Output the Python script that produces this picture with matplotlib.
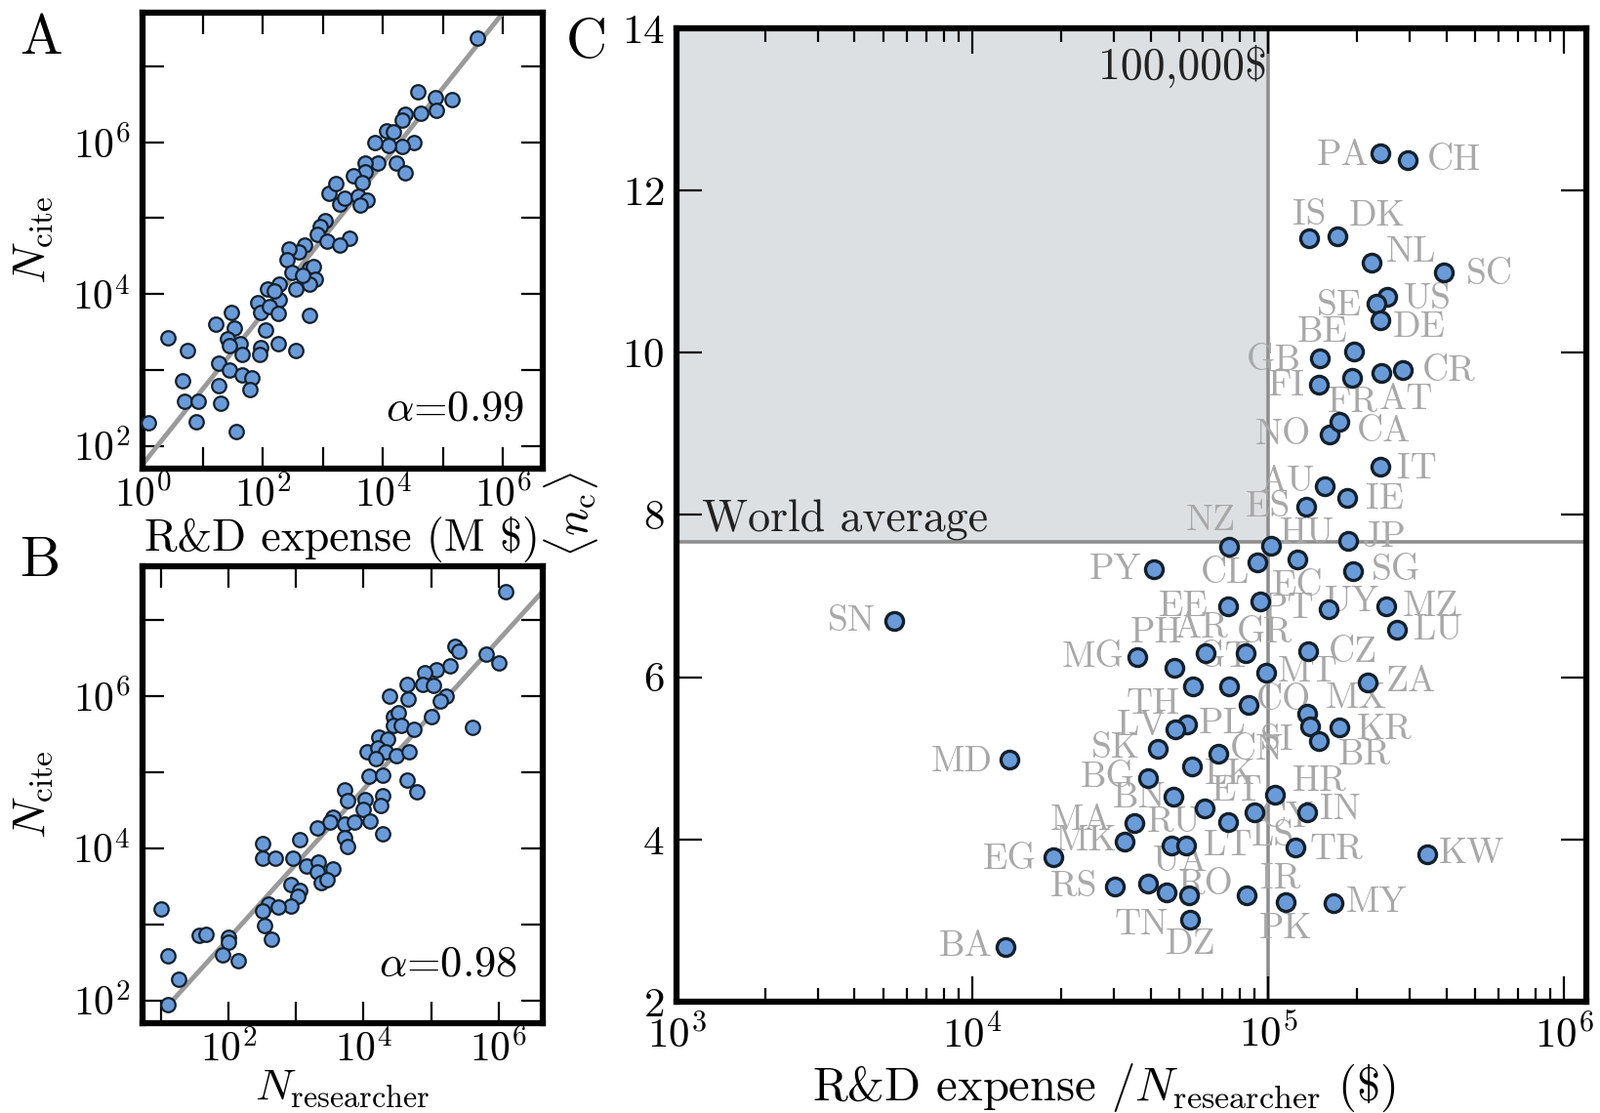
import numpy as np
import matplotlib
matplotlib.use("Agg")
import matplotlib.pyplot as plt
from matplotlib.ticker import FixedLocator, NullLocator, LogLocator

plt.rcParams['font.family'] = 'serif'
plt.rcParams['font.serif'] = ['cmr10', 'DejaVu Serif']
plt.rcParams['mathtext.fontset'] = 'cm'
plt.rcParams['axes.formatter.use_mathtext'] = True

# panel A: log10 of R&D expense (M $) and log10 of N_cite
a_expense_log = [5.57, 4.58, 4.87, 5.15, 4.63, 4.90, 4.38, 4.32, 4.06, 4.17, 4.52, 4.32, 4.09, 3.87,
                 4.22, 4.38, 3.91, 3.71, 3.71, 3.51, 3.65, 3.10, 3.22, 3.28, 3.37, 3.59, 3.74, 3.62,
                 3.04, 2.95, 2.90, 3.07, 3.45, 3.28, 2.69, 2.60, 2.43, 2.40, 2.78, 2.84, 2.49, 2.87,
                 2.78, 2.66, 2.55, 2.28, 2.08, 2.28, 2.20, 1.91, 1.97, 2.11, 2.26, 2.78, 1.47, 1.21,
                 1.53, 1.41, 1.62, 1.44, 2.05, 1.97, 2.26, 2.55, 1.65, 1.94, 1.27, 1.44, 1.65, 1.82,
                 1.78, 1.27, 1.30, 1.56, 0.42, 0.74, 0.67, 0.70, 0.92, 0.89, 0.10]
a_cite_log = [7.37, 6.66, 6.58, 6.56, 6.38, 6.42, 6.37, 6.29, 6.15, 6.13, 5.99, 5.94, 5.96, 6.00,
              5.73, 5.59, 5.72, 5.72, 5.61, 5.56, 5.47, 5.33, 5.46, 5.19, 5.26, 5.29, 5.24, 5.17,
              4.96, 4.89, 4.78, 4.69, 4.73, 4.64, 4.65, 4.55, 4.59, 4.45, 4.34, 4.36, 4.29, 4.20,
              4.13, 4.25, 4.06, 4.13, 4.06, 3.92, 4.04, 3.88, 3.76, 3.83, 3.75, 3.72, 3.76, 3.60,
              3.55, 3.41, 3.34, 3.32, 3.53, 3.30, 3.34, 3.25, 3.20, 3.20, 3.09, 3.00, 2.93, 2.90,
              2.74, 2.79, 2.56, 2.19, 3.42, 3.25, 2.86, 2.59, 2.59, 2.32, 2.30]

# panel B: log10 of N_researcher and log10 of N_cite
b_researcher_log = [6.10, 5.36, 5.41, 5.81, 6.00, 5.28, 5.08, 4.90, 4.64, 4.87, 5.03, 4.38, 4.66,
                    5.23, 5.13, 5.00, 4.44, 4.51, 4.44, 4.56, 4.74, 5.62, 4.23, 4.36, 4.05, 4.21,
                    4.33, 4.49, 4.67, 4.18, 4.08, 4.28, 4.64, 4.79, 3.72, 3.77, 4.03, 4.00, 4.28,
                    4.26, 4.10, 3.54, 3.51, 3.72, 3.87, 4.28, 3.72, 3.77, 3.31, 3.05, 2.51, 2.51,
                    2.69, 2.95, 3.15, 3.33, 3.31, 3.54, 3.38, 3.46, 2.92, 3.05, 3.03, 2.92, 2.59,
                    2.74, 2.51, 2.54, 2.64, 2.00, 2.00, 1.91, 2.15, 1.56, 1.67, 1.00, 1.10, 1.26,
                    1.10]
b_cite_log = [7.37, 6.65, 6.58, 6.55, 6.43, 6.39, 6.34, 6.30, 6.15, 6.15, 6.13, 6.00, 5.96, 6.00,
              5.93, 5.73, 5.73, 5.78, 5.61, 5.61, 5.56, 5.58, 5.46, 5.43, 5.26, 5.31, 5.26, 5.21,
              5.26, 5.18, 4.94, 4.96, 4.89, 4.74, 4.77, 4.62, 4.64, 4.51, 4.69, 4.56, 4.36, 4.41,
              4.34, 4.31, 4.34, 4.19, 4.14, 4.02, 4.27, 4.11, 4.06, 3.87, 3.87, 3.87, 3.77, 3.82,
              3.69, 3.73, 3.54, 3.59, 3.52, 3.44, 3.37, 3.24, 3.27, 3.23, 3.17, 2.98, 2.80, 2.83,
              2.77, 2.60, 2.52, 2.85, 2.87, 3.20, 2.58, 2.28, 1.95]

# fitted power laws: log10(N_cite) = slope * log10(x) + intercept
fit_a = (0.99, 1.76)
fit_b = (0.98, 0.85)

# panel C
countries = ['PA', 'CH', 'IS', 'DK', 'NL', 'SC', 'US', 'SE', 'DE', 'BE', 'GB', 'FI', 'FR', 'AT',
             'CR', 'NO', 'CA', 'IT', 'AU', 'IE', 'ES',
             'NZ', 'HU', 'JP', 'PY', 'CL', 'EC', 'SG', 'EE', 'PT', 'UY', 'MZ', 'LU', 'SN', 'MG',
             'AR', 'GR', 'CZ', 'PH', 'MT', 'ZA', 'TH', 'GT', 'CO', 'MX',
             'SI', 'KR', 'BR', 'PL', 'LV', 'SK', 'CN', 'MD', 'LK', 'BG', 'BN', 'HR', 'ET', 'LS',
             'CY', 'IN', 'MA', 'MK', 'RU', 'LT', 'TR', 'KW', 'EG', 'RS', 'UA', 'RO', 'TN', 'IR',
             'PK', 'MY', 'DZ', 'BA']
expense_per_researcher = [239000, 296500, 137900, 171900, 223300, 393600, 253300, 232900, 239000,
                          195200, 149600, 148800, 192700, 242000, 285400, 161400, 174100, 239000,
                          155400, 184600, 134500,
                          73960, 102300, 186900, 41110, 91980, 125900, 194100, 73230, 94320,
                          160500, 250300, 273300, 5458, 36050, 61640, 83970, 136900, 48110,
                          98490, 217600, 55700, 73960, 86100, 135900,
                          138700, 174500, 148100, 53220, 48730, 42280, 67830, 13330, 55280,
                          39330, 47960, 105500, 60890, 73230, 89710, 135900, 35310, 32730,
                          47230, 52940, 123700, 343600, 18830, 30330, 39270, 45270, 54030,
                          84600, 114700, 166400, 54570, 12920]
mean_citations = [12.46, 12.37, 11.41, 11.44, 11.11, 10.99, 10.69, 10.61, 10.40, 10.02, 9.93,
                  9.61, 9.69, 9.75, 9.79, 8.99, 9.15, 8.59, 8.36, 8.21, 8.10,
                  7.61, 7.62, 7.68, 7.33, 7.42, 7.45, 7.31, 6.88, 6.94, 6.84, 6.88, 6.58, 6.69,
                  6.25, 6.30, 6.30, 6.32, 6.12, 6.06, 5.94, 5.89, 5.89, 5.66, 5.55,
                  5.40, 5.38, 5.21, 5.42, 5.36, 5.12, 5.06, 4.98, 4.90, 4.76, 4.53, 4.55, 4.38,
                  4.22, 4.34, 4.34, 4.20, 3.97, 3.92, 3.92, 3.90, 3.82, 3.78, 3.42, 3.46, 3.35,
                  3.31, 3.31, 3.23, 3.22, 3.01, 2.68]
world_average = 7.67
threshold = 1e5

# label placement (pixels right, pixels down from the point)
label_shift = [(-38, 2), (47, 0), (0, -24), (40, -20), (41, -11), (46, 2), (41, 2), (-38, 3),
               (40, 7), (-32, -19), (-47, 2), (-34, 2), (0, 25), (25, 27), (47, 2), (-48, 0),
               (45, 10), (38, 2), (-38, -4), (39, 1), (-39, 0),
               (-19, -27), (37, -13), (37, -4), (-40, 0), (-33, 12), (0, 27), (44, 0), (-46, 1),
               (29, 8), (24, -7), (46, 1), (42, 0), (-44, 0), (-45, 0), (-5, -25), (19, -20),
               (45, 1), (-18, -35), (42, 0), (44, 0), (-41, 19), (-5, -29), (36, -5), (49, -16),
               (-34, 15), (46, 2), (47, 14), (36, 0), (-35, -3), (-43, 0), (39, -3), (-49, 2),
               (39, 8), (-42, 0), (-35, 2), (46, -14), (33, -18), (46, 15), (34, 6), (33, -2),
               (-55, -3), (-40, -1), (2, -24), (43, 0), (42, 2), (46, 0), (-45, 2), (-42, 0),
               (33, -22), (40, -7), (-49, 30), (35, -17), (0, 28), (44, 0), (0, 25), (-41, 0)]

face = '#6a9bd9'
edge = '#13202c'
line_gray = '#9a9a9a'


def log_panel(ax, xlim_log, xticks_log, ylim_log, yticks_log):
    ax.set_xscale('log')
    ax.set_yscale('log')
    ax.set_xlim(10 ** xlim_log[0], 10 ** xlim_log[1])
    ax.set_ylim(10 ** ylim_log[0], 10 ** ylim_log[1])
    ax.xaxis.set_major_locator(FixedLocator([10.0 ** k for k in xticks_log]))
    ax.yaxis.set_major_locator(FixedLocator([10.0 ** k for k in yticks_log]))
    ax.xaxis.set_minor_locator(NullLocator())
    ax.yaxis.set_minor_locator(NullLocator())
    ax.set_xticklabels([r'$10^{%d}$' % k if k % 2 == 0 else '' for k in xticks_log])
    ax.set_yticklabels([r'$10^{%d}$' % k if k % 2 == 0 else '' for k in yticks_log])
    ax.tick_params(which='major', direction='in', top=True, right=True, length=16, width=1.6,
                   labelsize=30, pad=5)
    ax.tick_params(axis='y', pad=9)
    for sp in ax.spines.values():
        sp.set_linewidth(4.5)


fig = plt.figure(figsize=(16.39, 11.40), dpi=100)

# A
axA = fig.add_axes([0.0891, 0.5789, 0.2499, 0.4101])
xs = np.logspace(0.0, 6.66, 100)
axA.plot(xs, 10 ** fit_a[1] * xs ** fit_a[0], color=line_gray, lw=3.5, zorder=2)
axA.scatter(10 ** np.array(a_expense_log), 10 ** np.array(a_cite_log), s=110, c=face,
            edgecolors=edge, linewidths=1.6, zorder=3, clip_on=False)
log_panel(axA, (-0.004, 6.66), range(0, 7), (1.70, 7.71), range(2, 8))
axA.set_xlabel(r'R&D expense (M \$)', fontsize=33)
axA.xaxis.set_label_coords(0.5, -0.105)
axA.set_ylabel(r'$N_{\rm cite}$', fontsize=34)
axA.yaxis.set_label_coords(-0.22, 0.5)
axA.text(0.955, 0.13, r'$\alpha$=0.99', transform=axA.transAxes, ha='right', va='center',
         fontsize=32)

# B
axB = fig.add_axes([0.0891, 0.0807, 0.2499, 0.4105])
xs = np.logspace(1.08, 6.66, 100)
axB.plot(xs, 10 ** fit_b[1] * xs ** fit_b[0], color=line_gray, lw=3.5, zorder=2)
axB.scatter(10 ** np.array(b_researcher_log), 10 ** np.array(b_cite_log), s=110, c=face,
            edgecolors=edge, linewidths=1.6, zorder=3)
log_panel(axB, (0.727, 6.65), range(1, 7), (1.70, 7.70), range(2, 8))
axB.set_xlabel(r'$N_{\rm researcher}$', fontsize=33)
axB.xaxis.set_label_coords(0.5, -0.100)
axB.set_ylabel(r'$N_{\rm cite}$', fontsize=34)
axB.yaxis.set_label_coords(-0.22, 0.5)
axB.text(0.937, 0.128, r'$\alpha$=0.98', transform=axB.transAxes, ha='right', va='center',
         fontsize=32)

# C
axC = fig.add_axes([0.4228, 0.100, 0.5687, 0.8746])
axC.set_xscale('log')
axC.set_xlim(1e3, 1.19e6)
axC.set_ylim(2, 14)
axC.fill_between([1e3, threshold], world_average, 14, color='#dde0e3', zorder=0, lw=0)
axC.axhline(world_average, color='#8e8e8e', lw=2.6, zorder=1)
axC.axvline(threshold, color='#8e8e8e', lw=2.6, zorder=1)
axC.text(1.22e3, world_average + 0.12, 'World average', ha='left', va='baseline', fontsize=33,
         color='#222222')
axC.text(threshold * 0.99, 13.53, r'100,000\$', ha='right', va='center', fontsize=33,
         color='#222222')
for name, xv, yv, (dx, dy) in zip(countries, expense_per_researcher, mean_citations, label_shift):
    axC.annotate(name, (xv, yv), xytext=(dx, -dy), textcoords='offset pixels', ha='center',
                 va='center', fontsize=27, color='#a8a8a8', zorder=3)
axC.scatter(expense_per_researcher, mean_citations, s=170, c=face, edgecolors=edge,
            linewidths=2.4, zorder=4)
axC.set_yticks(range(2, 15, 2))
axC.xaxis.set_major_locator(LogLocator(base=10, numticks=10))
axC.xaxis.set_minor_locator(LogLocator(base=10, subs=np.arange(2, 10), numticks=20))
axC.tick_params(which='major', direction='in', top=True, right=True, length=19, width=1.6,
                labelsize=31, pad=9)
axC.tick_params(which='minor', direction='in', top=True, right=True, length=10, width=1.6)
for sp in axC.spines.values():
    sp.set_linewidth(4.5)
axC.set_xlabel(r'R&D expense $/N_{\rm researcher}$ (\$)', fontsize=35)
axC.xaxis.set_label_coords(0.47, -0.062)
axC.set_ylabel(r'$\langle n_{\rm c}\rangle$', fontsize=34)
axC.yaxis.set_label_coords(-0.084, 0.5)

fig.text(42 / 1639, 1 - 40 / 1140, 'A', fontsize=42, ha='center', va='center')
fig.text(42 / 1639, 1 - 575 / 1140, 'B', fontsize=42, ha='center', va='center')
fig.text(601 / 1639, 1 - 44 / 1140, 'C', fontsize=42, ha='center', va='center')

fig.savefig('out.png', dpi=100)
